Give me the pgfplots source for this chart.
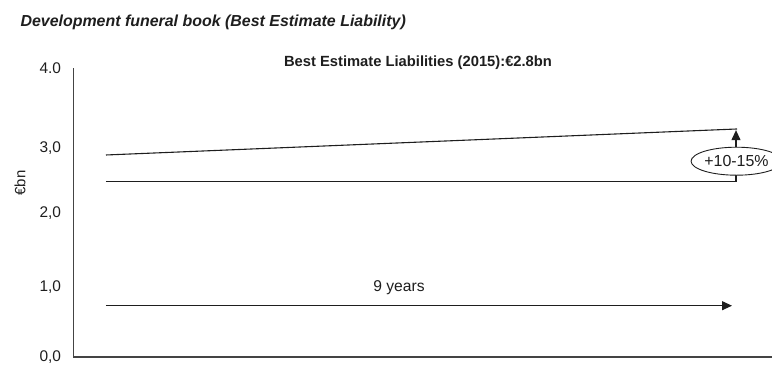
\documentclass[border=0pt]{standalone}
\usepackage{pgfplots}
\pgfplotsset{compat=1.18}
\usepackage{fontspec}
\setmainfont{Liberation Sans}
\usetikzlibrary{arrows.meta,shapes.geometric}
\definecolor{ln}{HTML}{1E1E1E}
\definecolor{ax}{HTML}{444444}
\begin{document}
\begin{tikzpicture}
\begin{axis}[
  scale only axis, width=698.5bp, height=289bp,
  xmin=0, xmax=698.5, ymin=0, ymax=4,
  axis x line=bottom, axis y line=left,
  axis line style={-, ax, line width=1.1pt},
  xtick=\empty,
  ytick={0,0.97,1.99,2.89,4},
  yticklabels={{0,0},{1,0},{2,0},{3,0},{4.0}},
  major tick length=0pt,
  yticklabel style={font=\fontsize{15.5}{17}\selectfont, color=ln, xshift=-9bp},
  clip=false,
]
\addplot[ln, line width=1.1pt] coordinates {(32.5,2.796) (663.5,3.156)};
\addplot[ln, line width=1.1pt] coordinates {(32.5,2.426) (663.5,2.426)};
\addplot[ln, line width=1.1pt, -{Triangle[length=10bp,width=9bp]}] coordinates {(32.5,0.71) (658.5,0.71)};
\addplot[ln, line width=1.1pt, -{Triangle[length=10bp,width=9bp]}] coordinates {(662.5,2.426) (662.5,3.14)};
\node[draw=ln, line width=0.9pt, fill=white, ellipse, inner sep=0pt, minimum width=68bp, minimum height=28bp, font=\fontsize{16}{18}\selectfont, text=ln] at (axis cs:663,2.71) {+10-15\%};
\node[font=\fontsize{15.7}{18}\selectfont, text=ln] at (axis cs:325.5,0.955) {9 years};
\node[font=\bfseries\fontsize{14.8}{17}\selectfont, text=ln] at (axis cs:344.5,4.07) {Best Estimate Liabilities (2015):€2.8bn};
\node[anchor=west, font=\bfseries\itshape\fontsize{16}{19}\selectfont, text=ln] at ([xshift=-56.5bp,yshift=46bp]rel axis cs:0,1) {Development funeral book (Best Estimate Liability)};
\node[rotate=90, font=\fontsize{15}{17}\selectfont, text=ln] at ([xshift=-53.5bp]rel axis cs:0,0.602) {€bn};
\end{axis}
\pgfresetboundingbox
\path (current axis.south west) ++(-73.5bp,-8bp) rectangle ([yshift=68bp]current axis.north east);
\end{tikzpicture}
\end{document}
